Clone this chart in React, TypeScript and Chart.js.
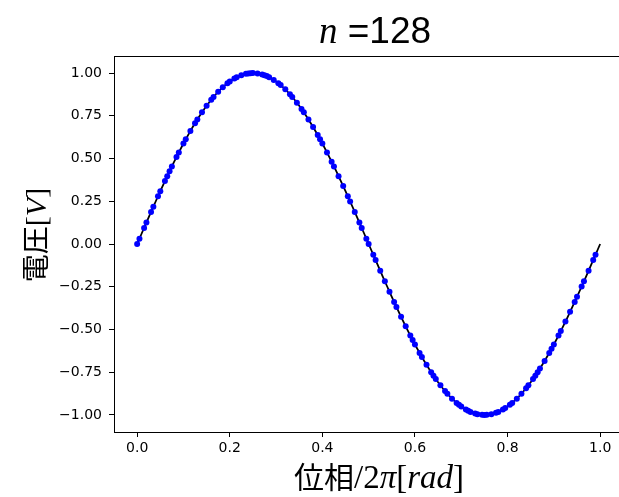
import React, { useEffect, useRef } from "react";
import { Chart, registerables } from "chart.js";

Chart.register(...registerables);

// Continuous reference sine (phase 0..1 step 0.01)
const lineY = [
  0, 0.0628, 0.1253, 0.1874, 0.2487, 0.309, 0.3681, 0.4258, 0.4818, 0.5358, 0.5878, 0.6374, 0.6845, 0.729, 0.7705, 0.809,
  0.8443, 0.8763, 0.9048, 0.9298, 0.9511, 0.9686, 0.9823, 0.9921, 0.998, 1,
  0.998, 0.9921, 0.9823, 0.9686, 0.9511, 0.9298, 0.9048, 0.8763, 0.8443, 0.809, 0.7705, 0.729, 0.6845, 0.6374, 0.5878,
  0.5358, 0.4818, 0.4258, 0.3681, 0.309, 0.2487, 0.1874, 0.1253, 0.0628, 0,
  -0.0628, -0.1253, -0.1874, -0.2487, -0.309, -0.3681, -0.4258, -0.4818, -0.5358, -0.5878, -0.6374, -0.6845, -0.729,
  -0.7705, -0.809, -0.8443, -0.8763, -0.9048, -0.9298, -0.9511, -0.9686, -0.9823, -0.9921, -0.998, -1,
  -0.998, -0.9921, -0.9823, -0.9686, -0.9511, -0.9298, -0.9048, -0.8763, -0.8443, -0.809, -0.7705, -0.729, -0.6845,
  -0.6374, -0.5878, -0.5358, -0.4818, -0.4258, -0.3681, -0.309, -0.2487, -0.1874, -0.1253, -0.0628, 0,
];
const phaseGrid = lineY.map((_, i) => i / 100);

// Sampled points (n = 128)
const dotX = [
  0, 0.005, 0.015, 0.02, 0.03, 0.035, 0.045,
  0.05, 0.06, 0.065, 0.07, 0.075, 0.085, 0.09,
  0.1, 0.105, 0.115, 0.125, 0.13, 0.14,
  0.15, 0.16, 0.165, 0.175, 0.185, 0.195,
  0.2, 0.21, 0.215, 0.225, 0.235, 0.24, 0.245,
  0.25, 0.26, 0.27, 0.275, 0.28, 0.285, 0.295,
  0.305, 0.31, 0.32, 0.33, 0.335, 0.345,
  0.355, 0.36, 0.37, 0.38, 0.39, 0.395,
  0.4, 0.41, 0.42, 0.425, 0.435, 0.445,
  0.455, 0.46, 0.47, 0.48, 0.485, 0.495,
  0.5, 0.51, 0.515, 0.525, 0.535, 0.545,
  0.555, 0.56, 0.57, 0.58, 0.59, 0.595,
  0.6, 0.61, 0.615, 0.625, 0.635, 0.64, 0.645,
  0.655, 0.665, 0.67, 0.68, 0.69, 0.695,
  0.7, 0.71, 0.715, 0.72, 0.73, 0.735, 0.745,
  0.75, 0.755, 0.765, 0.775, 0.78, 0.79, 0.795,
  0.805, 0.81, 0.82, 0.83, 0.84, 0.845,
  0.855, 0.86, 0.865, 0.87, 0.88, 0.89, 0.895,
  0.9, 0.91, 0.915, 0.925, 0.935, 0.945,
  0.95, 0.96, 0.965, 0.975, 0.985, 0.99,
];
const dotY = [
  0, 0.0314, 0.0941, 0.1253, 0.1874, 0.2181, 0.279,
  0.309, 0.3681, 0.3971, 0.4258, 0.454, 0.509, 0.5358,
  0.5878, 0.6129, 0.6613, 0.7071, 0.729, 0.7705,
  0.809, 0.8443, 0.8607, 0.891, 0.9178, 0.9409,
  0.9511, 0.9686, 0.9759, 0.9877, 0.9956, 0.998, 0.9995,
  1, 0.998, 0.9921, 0.9877, 0.9823, 0.9759, 0.9603,
  0.9409, 0.9298, 0.9048, 0.8763, 0.8607, 0.8271,
  0.7902, 0.7705, 0.729, 0.6845, 0.6374, 0.6129,
  0.5878, 0.5358, 0.4818, 0.454, 0.3971, 0.3387,
  0.279, 0.2487, 0.1874, 0.1253, 0.0941, 0.0314,
  0, -0.0628, -0.0941, -0.1564, -0.2181, -0.279,
  -0.3387, -0.3681, -0.4258, -0.4818, -0.5358, -0.5621,
  -0.5878, -0.6374, -0.6613, -0.7071, -0.7501, -0.7705, -0.7902,
  -0.8271, -0.8607, -0.8763, -0.9048, -0.9298, -0.9409,
  -0.9511, -0.9686, -0.9759, -0.9823, -0.9921, -0.9956, -0.9995,
  -1, -0.9995, -0.9956, -0.9877, -0.9823, -0.9686, -0.9603,
  -0.9409, -0.9298, -0.9048, -0.8763, -0.8443, -0.8271,
  -0.7902, -0.7705, -0.7501, -0.729, -0.6845, -0.6374, -0.6129,
  -0.5878, -0.5358, -0.509, -0.454, -0.3971, -0.3387,
  -0.309, -0.2487, -0.2181, -0.1564, -0.0941, -0.0628,
];

const xTicks = [0, 0.2, 0.4, 0.6, 0.8, 1.0];
const yTicks = [-1, -0.75, -0.5, -0.25, 0, 0.25, 0.5, 0.75, 1];

const titleParts = [
  { t: "n", f: 'italic 37px "Liberation Serif"' },
  { t: " =128", f: '37px "Liberation Sans"' },
];
const xTitleParts = [
  { t: "位相", f: '30px "Noto Sans CJK JP"' },
  { t: "/2", f: '33px "Liberation Serif"' },
  { t: "π", f: 'italic 33px "Liberation Serif"' },
  { t: "[", f: '33px "Liberation Serif"' },
  { t: "rad", f: 'italic 33px "Liberation Serif"' },
  { t: "]", f: '33px "Liberation Serif"' },
];
const yTitleParts = [
  { t: "電圧", f: '28px "Noto Sans CJK JP"' },
  { t: "[", f: '30px "Liberation Serif"' },
  { t: "V", f: 'italic 30px "Liberation Serif"' },
  { t: "]", f: '30px "Liberation Serif"' },
];

function drawParts(ctx: CanvasRenderingContext2D, parts: { t: string; f: string }[], cx: number, baseline: number) {
  let total = 0;
  for (const p of parts) {
    ctx.font = p.f;
    total += ctx.measureText(p.t).width;
  }
  let x = cx - total / 2;
  for (const p of parts) {
    ctx.font = p.f;
    ctx.fillText(p.t, x, baseline);
    x += ctx.measureText(p.t).width;
  }
}

const textPlugin = {
  id: "mplText",
  afterDraw(chart: any) {
    const ctx: CanvasRenderingContext2D = chart.ctx;
    const a = chart.chartArea;
    ctx.save();
    ctx.strokeStyle = "#000";
    ctx.lineWidth = 1;
    ctx.beginPath();
    ctx.moveTo(a.left, a.top + 0.5);
    ctx.lineTo(a.right, a.top + 0.5);
    ctx.stroke();
    ctx.fillStyle = "#000";
    ctx.textAlign = "left";
    ctx.textBaseline = "alphabetic";
    drawParts(ctx, titleParts, 375, 43);
    drawParts(ctx, xTitleParts, 379, 488);
    ctx.translate(46, 235);
    ctx.rotate(-Math.PI / 2);
    drawParts(ctx, yTitleParts, 0, 0);
    ctx.restore();
  },
};

const fmtMinus = (s: string) => s.replace("-", "\u2212");

export default function App() {
  const ref = useRef<HTMLCanvasElement | null>(null);
  useEffect(() => {
    if (!ref.current) return;
    const chart = new Chart(ref.current, {
      type: "scatter",
      data: {
        datasets: [
          {
            label: "samples",
            data: dotX.map((x, i) => ({ x, y: dotY[i] })),
            showLine: false,
            pointRadius: 3,
            pointBackgroundColor: "#0000ff",
            pointBorderWidth: 0,
            pointBorderColor: "#0000ff",
          },
          {
            label: "sine",
            data: phaseGrid.map((x, i) => ({ x, y: lineY[i] })),
            showLine: true,
            borderColor: "#000",
            borderWidth: 1.8,
            pointRadius: 0,
            fill: false,
          },
        ],
      },
      options: {
        animation: false,
        responsive: false,
        events: [],
        layout: { padding: { top: 56, left: 0, right: 0, bottom: 0 }, autoPadding: false },
        plugins: { legend: { display: false }, tooltip: { enabled: false }, title: { display: false } },
        scales: {
          x: {
            type: "linear",
            min: -0.05,
            max: 1.0407,
            afterBuildTicks: (s: any) => {
              s.ticks = xTicks.map((v) => ({ value: v }));
            },
            afterFit: (s: any) => {
              s.height = 65;
            },
            ticks: {
              color: "#000",
              font: { family: "DejaVu Sans", size: 14 },
              padding: 3,
              maxRotation: 0,
              callback: (v: any) => fmtMinus(Number(v).toFixed(1)),
            },
            grid: {
              display: true,
              drawOnChartArea: false,
              drawTicks: true,
              tickLength: 5,
              tickColor: "#000",
              tickWidth: 1,
            },
            border: { display: true, color: "#000", width: 1 },
          },
          y: {
            type: "linear",
            min: -1.1,
            max: 1.1,
            afterBuildTicks: (s: any) => {
              s.ticks = yTicks.map((v) => ({ value: v }));
            },
            afterFit: (s: any) => {
              s.width = 114;
            },
            ticks: {
              color: "#000",
              font: { family: "DejaVu Sans", size: 14 },
              padding: 7,
              callback: (v: any) => fmtMinus(Number(v).toFixed(2)),
            },
            grid: {
              display: true,
              drawOnChartArea: false,
              drawTicks: true,
              tickLength: 5,
              tickColor: "#000",
              tickWidth: 1,
            },
            border: { display: true, color: "#000", width: 1 },
          },
        },
      },
      plugins: [textPlugin],
    } as any);
    return () => chart.destroy();
  }, []);
  return (
    <div style={{ position: "fixed", left: 0, top: 0, width: 619, height: 497, background: "#fff" }}>
      <canvas ref={ref} width={619} height={497} style={{ display: "block" }} />
    </div>
  );
}
